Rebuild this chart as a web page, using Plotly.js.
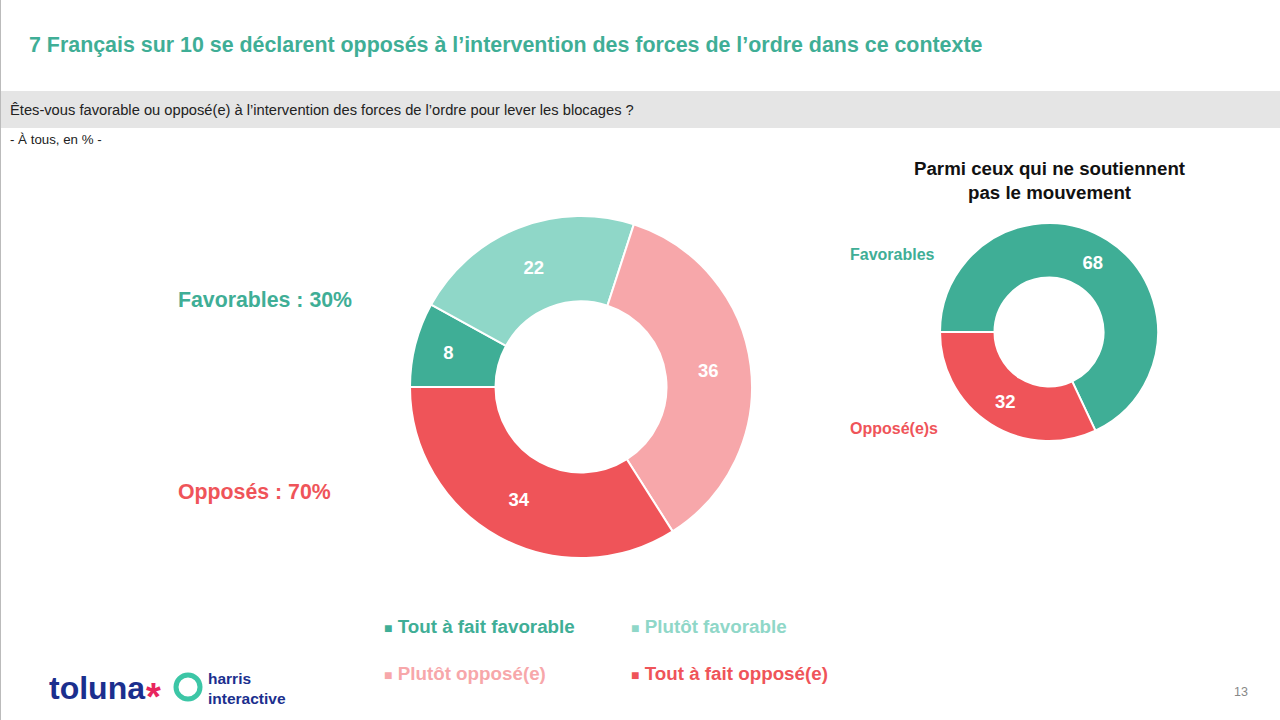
<!DOCTYPE html>
<html>
<head>
<meta charset="utf-8">
<script src="https://cdn.plot.ly/plotly-3.0.1.min.js"></script>
<style>html,body{margin:0;padding:0;background:#fff;}#chart{width:1280px;height:720px;}</style>
</head>
<body>
<div id="chart"></div>
<script>
// ---- Data ----
const mainLabels = ["Tout à fait favorable", "Plutôt favorable", "Plutôt opposé(e)", "Tout à fait opposé(e)"];
const mainValues = [8, 22, 36, 34];
const mainColors = ["#3FAE96", "#8FD7C8", "#F7A7AA", "#EF5459"];

const subLabels = ["Favorables", "Opposé(e)s"];
const subValues = [68, 32];
const subColors = ["#3FAE96", "#EF5459"];

const summaryLabels = ["Favorables : 30%", "Opposés : 70%"];
const summaryColors = ["#3FAE96", "#EF5459"];

const titleText = "7 Français sur 10 se déclarent opposés à l’intervention des forces de l’ordre dans ce contexte";
const questionText = "Êtes-vous favorable ou opposé(e) à l’intervention des forces de l’ordre pour lever les blocages ?";
const baseText = "- À tous, en % -";
const subTitle = "Parmi ceux qui ne soutiennent<br>pas le mouvement";
const pageNumber = "13";

const FONT = "Liberation Sans, Arial, sans-serif";

const traces = [
  {
    type: "pie",
    labels: mainLabels,
    values: mainValues,
    marker: {colors: mainColors, line: {color: "#ffffff", width: 2}},
    hole: 0.5,
    sort: false,
    direction: "clockwise",
    rotation: 270,
    textinfo: "value",
    textposition: "inside",
    insidetextorientation: "horizontal",
    textfont: {family: FONT, size: 18.5, color: "#ffffff", weight: 700},
    domain: {x: [410/1280, 752/1280], y: [1 - 558/720, 1 - 216/720]},
    showlegend: false,
    hoverinfo: "label+value"
  },
  {
    type: "pie",
    labels: subLabels,
    values: subValues,
    marker: {colors: subColors, line: {color: "#ffffff", width: 2}},
    hole: 0.5,
    sort: false,
    direction: "clockwise",
    rotation: 270,
    textinfo: "value",
    textposition: "inside",
    insidetextorientation: "horizontal",
    textfont: {family: FONT, size: 18.5, color: "#ffffff", weight: 700},
    domain: {x: [940/1280, 1158/1280], y: [1 - 441/720, 1 - 223/720]},
    showlegend: false,
    hoverinfo: "label+value"
  }
];

const annotations = [];
function px(x) { return x / 1280; }
function py(y) { return 1 - y / 720; }
function addText(text, x, y, size, color, bold, opts) {
  const font = {family: FONT, size: size, color: color};
  if (bold) font.weight = 700;
  annotations.push(Object.assign({
    text: text, x: px(x), y: py(y), xref: "paper", yref: "paper",
    xanchor: "left", yanchor: "middle", showarrow: false, font: font
  }, opts || {}));
}

addText(titleText, 27, 45, 21.4, "#3FAE96", true);
addText(questionText, 8, 110, 14.7, "#222222", false);
addText(baseText, 8, 139, 13.3, "#222222", false);

addText(summaryLabels[0], 176, 300, 21.3, summaryColors[0], true);
addText(summaryLabels[1], 176, 492, 21.3, summaryColors[1], true);

addText(subTitle, 1049, 180, 18.7, "#111111", true, {xanchor: "center"});
addText(subLabels[0], 848, 254, 16, subColors[0], true);
addText(subLabels[1], 848, 428, 16, subColors[1], true);

// custom legend built from data arrays
const legPos = [[382, 626], [629, 626], [382, 673], [629, 673]];
mainLabels.forEach((lab, i) => {
  addText('<span style="font-size:14px">■</span> ' + lab, legPos[i][0], legPos[i][1], 18.8, mainColors[i], true);
});

// logos (as text)
addText("toluna", 47, 688, 32, "#1B2F8E", true);
addText("*", 144, 697, 38, "#E8265E", true);
addText("harris<br>interactive", 206, 688, 15.5, "#1B2F8E", true, {align: "left"});
addText(pageNumber, 1232, 692, 12.5, "#888888", false);

const shapes = [
  {type: "rect", xref: "paper", yref: "paper", x0: 0, x1: 1, y0: py(128), y1: py(91), fillcolor: "#E5E5E5", line: {width: 0}, layer: "below"},
  {type: "line", xref: "paper", yref: "paper", x0: px(0.5), x1: px(0.5), y0: 0, y1: 1, line: {color: "#BBBBBB", width: 1}},
  {type: "circle", xref: "paper", yref: "paper", x0: px(176), x1: px(200), y0: py(699), y1: py(675), line: {color: "#3CC6A6", width: 5}}
];

const layout = {
  width: 1280, height: 720,
  margin: {l: 0, r: 0, t: 0, b: 0},
  paper_bgcolor: "#ffffff",
  plot_bgcolor: "#ffffff",
  showlegend: false,
  annotations: annotations,
  shapes: shapes,
  font: {family: FONT}
};

Plotly.newPlot("chart", traces, layout, {displayModeBar: false, staticPlot: true});
</script>
</body>
</html>
